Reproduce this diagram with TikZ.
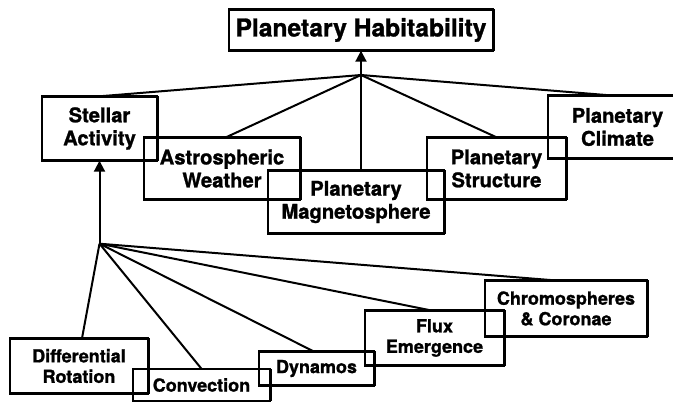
\documentclass[tikz,border=0pt]{standalone}
\usepackage{fontspec}
\setmainfont{TeX Gyre Heros}[BoldFeatures={FakeBold=1.2}]
\usetikzlibrary{arrows.meta}
\begin{document}
\begin{tikzpicture}[x=1pt,y=-1pt,
  box/.style={draw, line width=1.4pt, inner sep=0pt, align=center,
    append after command={
      (\tikzlastnode.north west) edge[line width=2pt] (\tikzlastnode.north east)
      (\tikzlastnode.north east) edge[line width=2.8pt] (\tikzlastnode.south east)
      (\tikzlastnode.south east) edge[line width=2.8pt] (\tikzlastnode.south west)}},
  top/.style={box, font=\fontsize{24.6}{28}\selectfont\bfseries},
  mid/.style={box, font=\fontsize{20.2}{23}\selectfont\bfseries},
  low/.style={box, font=\fontsize{18}{20.5}\selectfont\bfseries},
  conn/.style={line width=2pt},
  arr/.style={conn, -{Triangle[length=11pt,width=11pt]}}]
\clip (0,0) rectangle (673,402);
\fill[white] (0,0) rectangle (673,402);
% top level
\node[top, minimum width=264pt, minimum height=40pt] (hab) at (361,30) {Planetary Habitability};
\node[mid, minimum width=115pt, minimum height=63pt] (stellar) at (99.5,128.5) {Stellar\\Activity};
\node[mid, minimum width=156pt, minimum height=61pt] (astro) at (222,168.5) {Astrospheric\\Weather};
\node[mid, minimum width=176pt, minimum height=62pt] (magneto) at (356,202) {Planetary\\Magnetosphere};
\node[mid, minimum width=139pt, minimum height=61pt] (struct) at (496.5,168.5) {Planetary\\Structure};
\node[mid, minimum width=139pt, minimum height=62pt] (climate) at (617.5,127) {Planetary\\Climate};
% lower level
\node[low, minimum width=138pt, minimum height=54pt] (diff) at (79,366) {Differential\\Rotation};
\node[low, minimum width=137pt, minimum height=31pt] (conv) at (201.5,385) {Convection};
\node[low, minimum width=115pt, minimum height=33pt] (dyn) at (316.5,368.5) {Dynamos};
\node[low, minimum width=139pt, minimum height=54pt] (flux) at (434.5,338) {Flux\\Emergence};
\node[low, minimum width=162pt, minimum height=55pt] (chromo) at (566,308.5) {Chromospheres\\\& Coronae};
% junctions
\coordinate (j1) at (361,75);
\coordinate (j2) at ([yshift=-83pt]stellar.south);
% connectors upper
\draw[arr] (j1) -- (hab.south);
\draw[conn] (j1) -- (stellar.north);
\draw[conn] (j1) -- ([xshift=4pt]astro.north);
\draw[conn] (j1) -- (j1 |- magneto.north);
\draw[conn] (j1) -- (struct.north);
\draw[conn] (j1) -- ([xshift=-8pt]climate.north);
% connectors lower
\draw[arr] (j2) -- (stellar.south);
\draw[conn] (j2) -- ([xshift=3pt]diff.north);
\draw[conn] (j2) -- (conv.north);
\draw[conn] (j2) -- ([xshift=-3pt]dyn.north);
\draw[conn] (j2) -- ([xshift=-4pt]flux.north);
\draw[conn] (j2) -- ([xshift=-12pt]chromo.north);
\end{tikzpicture}
\end{document}
